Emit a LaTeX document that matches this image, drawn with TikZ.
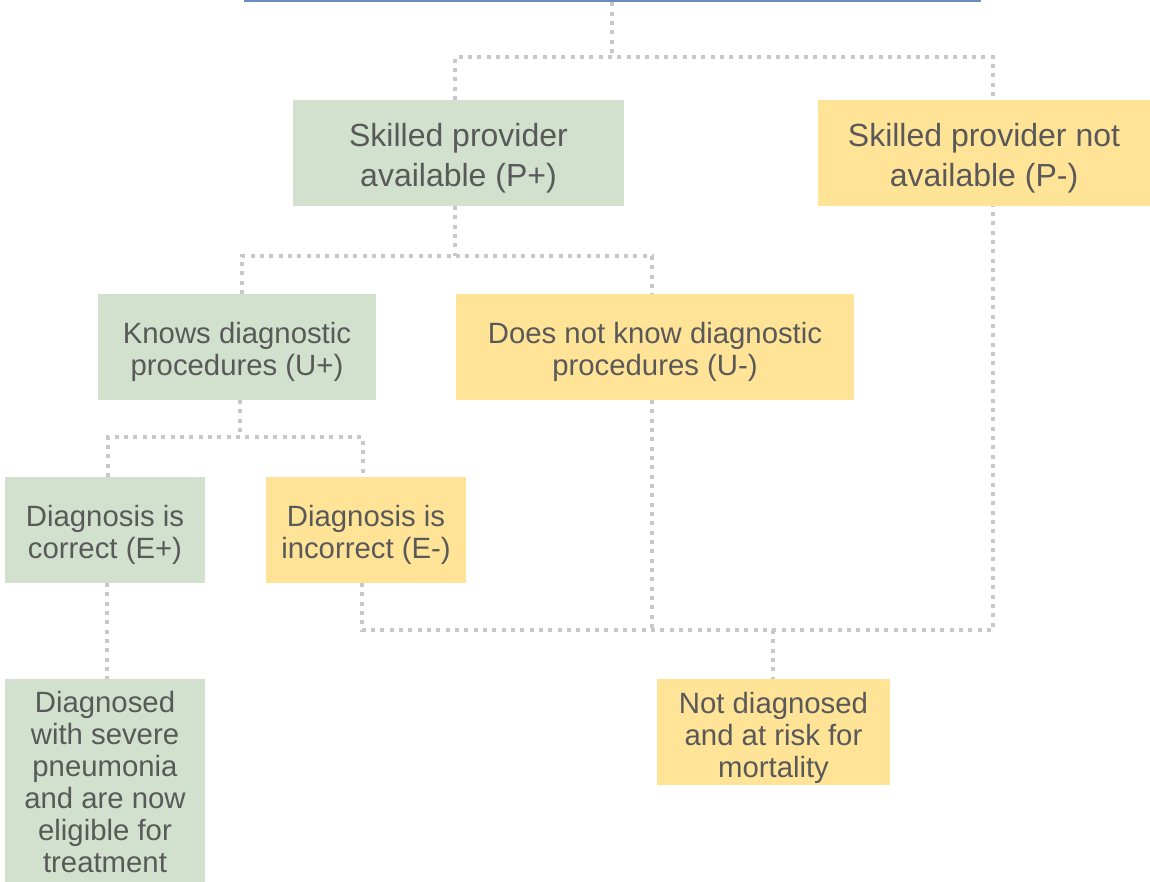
\documentclass[tikz,border=0pt]{standalone}
\usepackage{fontspec}
\setmainfont{Liberation Sans}
\definecolor{boxgreen}{HTML}{D1E1CE}
\definecolor{boxyellow}{HTML}{FFE396}
\definecolor{linkgray}{HTML}{C8C8C8}
\definecolor{textgray}{HTML}{595959}
\definecolor{rootblue}{HTML}{6C8EBF}
\begin{document}
\begin{tikzpicture}[x=0.75pt,y=-0.75pt,
  box/.style={inner sep=0pt,outer sep=0pt,minimum height=79.5pt},
  txt/.style={inner sep=0pt,align=center,text=textgray},
  bigtxt/.style={txt,font=\fontsize{24}{30}\selectfont},
  smalltxt/.style={txt,font=\fontsize{22}{24}\selectfont},
  good/.style={box,fill=boxgreen},
  bad/.style={box,fill=boxyellow},
  conn/.style={draw=linkgray,line width=3pt,dash pattern=on 3pt off 4pt}]
\useasboundingbox (0,0) rectangle (1150,882);

% root box, only its lower edge falls on the page
\node[draw=rootblue,fill=white,line width=1.9pt,minimum width=551.25pt,
  minimum height=45pt,inner sep=0pt] (root) at (612.5,-29) {};

% decision boxes
\node[good,minimum width=248.25pt] (pp) at (458.5,153) {};
\node[bad,minimum width=249pt] (pm) at (984,153) {};
\node[good,minimum width=208.5pt] (up) at (237,347) {};
\node[bad,minimum width=298.5pt] (um) at (655,347) {};
\node[good,minimum width=150pt] (ep) at (105,530) {};
\node[bad,minimum width=150pt] (em) at (366,530) {};
\node[good,minimum width=150pt,minimum height=160pt,anchor=north] (dx) at (105,679) {};
\node[bad,minimum width=174.75pt] (nd) at (773.5,732) {};

% box texts
\node[bigtxt] (pp-t) at ([yshift=-4pt]pp.center) {Skilled provider\\available (P+)};
\node[bigtxt] (pm-t) at ([yshift=-4pt]pm.center) {Skilled provider not\\available (P-)};
\node[smalltxt] (up-t) at ([yshift=-3.5pt]up.center) {Knows diagnostic\\procedures (U+)};
\node[smalltxt] (um-t) at ([yshift=-3.5pt]um.center) {Does not know diagnostic\\procedures (U-)};
\node[smalltxt] (ep-t) at ([yshift=-3.5pt]ep.center) {Diagnosis is\\correct (E+)};
\node[smalltxt] (em-t) at ([yshift=-3.5pt]em.center) {Diagnosis is\\incorrect (E-)};
\node[smalltxt,anchor=north] (dx-t) at ([yshift=-9pt]dx.north)
  {Diagnosed\\with severe\\pneumonia\\and are now\\eligible for\\treatment};
\node[smalltxt] (nd-t) at ([yshift=-4.5pt]nd.center) {Not diagnosed\\and at risk for\\mortality};

% junction points of the elbow connectors
\coordinate (j0) at (612,57);
\coordinate (a1) at (455,57);
\coordinate (b1) at (993,57);
\coordinate (j1) at (455,256);
\coordinate (a2) at (242,256);
\coordinate (b2) at (652,256);
\coordinate (j2) at (240,437);
\coordinate (a3) at (108,437);
\coordinate (b3) at (363,437);
\coordinate (a4) at (362,630);
\coordinate (b4) at (993,630);
\coordinate (m4) at (652,630);
\coordinate (j4) at (773,630);

% connectors
\draw[conn] (root.south -| j0) -- (j0);
\draw[conn] (pp.north -| a1) -- (a1) -- (b1) -- (pm.north -| b1);
\draw[conn] (pp.south -| j1) -- (j1);
\draw[conn] (up.north -| a2) -- (a2) -- (b2) -- (um.north -| b2);
\draw[conn] (up.south -| j2) -- (j2);
\draw[conn] (ep.north -| a3) -- (a3) -- (b3) -- (em.north -| b3);
\draw[conn] (ep.south -| 107,0) -- (dx.north -| 107,0);
\draw[conn] (em.south -| a4) -- (a4) -- (b4) -- (pm.south -| b4);
\draw[conn] (um.south -| m4) -- (m4);
\draw[conn] (j4) -- (nd.north -| j4);
\end{tikzpicture}
\end{document}
